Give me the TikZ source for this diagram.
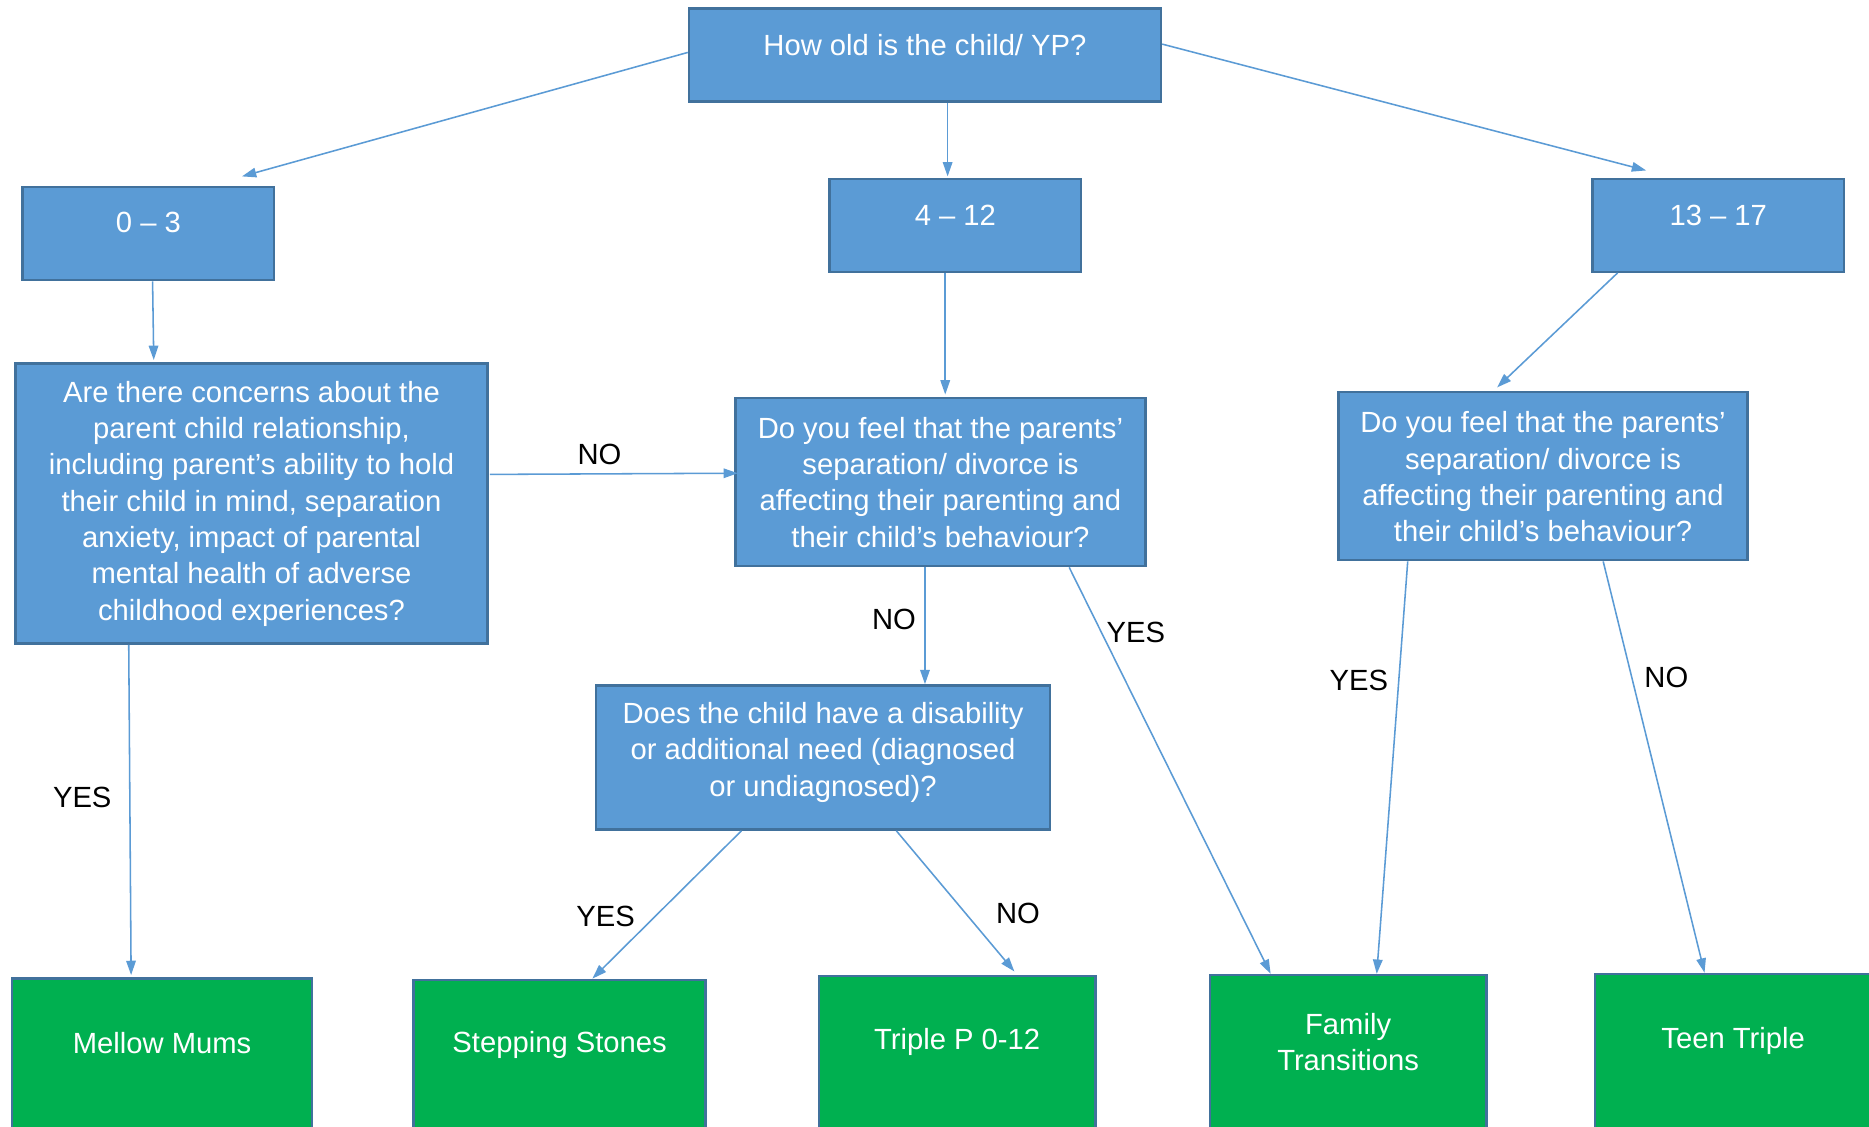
\documentclass[tikz,border=0pt]{standalone}
\usepackage{fontspec}
\setmainfont{Liberation Sans}
\usetikzlibrary{arrows.meta,calc}
\definecolor{bfill}{HTML}{5B9BD5}
\definecolor{bdr}{HTML}{41719C}
\definecolor{gfill}{HTML}{00B050}
\definecolor{arr}{HTML}{5B9BD5}
\tikzset{
  box/.style={draw=bdr, fill=bfill, line width=2pt, inner sep=0pt, rectangle},
  gbox/.style={draw=bdr, fill=gfill, line width=2pt, inner sep=0pt, rectangle, anchor=north},
  wtxt/.style={text=white, align=center, inner sep=0pt, font=\fontsize{24.5}{30.5}\selectfont},
  lbl/.style={text=black, inner sep=0pt, font=\fontsize{24.5}{30.5}\selectfont},
  con/.style={draw=arr, line width=1.3pt, -{Triangle[length=12pt,width=8pt]}}
}
\begin{document}
\begin{tikzpicture}[x=1pt,y=-1pt]
\useasboundingbox (0,0) rectangle (1568,945);
\clip (0,0) rectangle (1568,945);
\fill[white] (0,0) rectangle (1568,945);
% blue boxes
\node[box, minimum width=396pt, minimum height=78pt] (top) at (776,46) {};
\node[wtxt] (topT) at (776,38) {How old is the child/ YP?};
\node[box, minimum width=211pt, minimum height=78pt] (a03) at (124.5,196) {};
\node[wtxt] (a03T) at (124.5,187) {0 – 3};
\node[box, minimum width=211pt, minimum height=78pt] (a412) at (801.5,189) {};
\node[wtxt] (a412T) at (801.5,181) {4 – 12};
\node[box, minimum width=211pt, minimum height=78pt] (a1317) at (1441.5,189) {};
\node[wtxt] (a1317T) at (1441.5,181) {13 – 17};
\node[box, minimum width=396pt, minimum height=235pt] (q1) at (211,422.5) {};
\node[wtxt] (q1T) at (211,422.5) {Are there concerns about the\\parent child relationship,\\including parent’s ability to hold\\their child in mind, separation\\anxiety, impact of parental\\mental health of adverse\\childhood experiences?};
\node[box, minimum width=344pt, minimum height=141pt] (q2) at (789,404.5) {};
\node[wtxt] (q2T) at (789,404.5) {Do you feel that the parents’\\separation/ divorce is\\affecting their parenting and\\their child’s behaviour?};
\node[box, minimum width=343pt, minimum height=141pt] (q3) at (1294.5,399.5) {};
\node[wtxt] (q3T) at (1294.5,400) {Do you feel that the parents’\\separation/ divorce is\\affecting their parenting and\\their child’s behaviour?};
\node[box, minimum width=381pt, minimum height=121pt] (q4) at (690.5,635.5) {};
\node[wtxt] (q4T) at (690.5,631) {Does the child have a disability\\or additional need (diagnosed\\or undiagnosed)?};
% green boxes
\node[gbox, minimum width=252pt, minimum height=180pt] (mellow) at (136,820) {};
\node[wtxt] (mellowT) at (136,875) {Mellow Mums};
\node[gbox, minimum width=245pt, minimum height=180pt] (stepping) at (469.5,821) {};
\node[wtxt] (steppingT) at (469.5,877) {Stepping Stones};
\node[gbox, minimum width=232pt, minimum height=180pt] (triple) at (803,818) {};
\node[wtxt] (tripleT) at (803,874) {Triple P 0-12};
\node[gbox, minimum width=232pt, minimum height=180pt] (family) at (1131,817) {};
\node[wtxt] (familyT) at (1131,874) {Family\\Transitions};
\node[gbox, minimum width=232pt, minimum height=180pt] (teen) at (1454,816) {};
\node[wtxt] (teenT) at (1454,873) {Teen Triple};
% connectors
\draw[con] ([yshift=2pt]top.west) -- ([xshift=78.5pt,yshift=8pt]a03.north);
\draw[con] ([xshift=19pt]top.south) -- ([xshift=-6.5pt,yshift=1pt]a412.north);
\draw[con] ([yshift=9pt]top.east) -- ([xshift=-60.5pt,yshift=6pt]a1317.north);
\draw[con] ([xshift=3.5pt]a03.south) -- ([xshift=-82pt,yshift=2pt]q1.north);
\draw[con] ([xshift=-8.5pt]a412.south) -- ([xshift=4pt,yshift=2pt]q2.north);
\draw[con] ([xshift=-84.5pt]a1317.south) -- ([xshift=-38.5pt,yshift=3pt]q3.north);
\draw[con] ([yshift=24.5pt,xshift=1pt]q1.east) -- ([yshift=7.5pt,xshift=3pt]q2.west);
\draw[con] ([xshift=-13pt]q2.south) -- ([xshift=85.5pt]q4.north);
\draw[con] ([xshift=108pt]q2.south) -- ([xshift=-65pt]family.north);
\draw[con] ([xshift=-113.5pt]q3.south) -- ([xshift=24pt]family.north);
\draw[con] ([xshift=50.5pt]q3.south) -- ([xshift=-24pt]teen.north);
\draw[con] ([xshift=-103pt]q1.south) -- ([xshift=-26pt,yshift=2pt]mellow.north);
\draw[con] ([xshift=-68.5pt]q4.south) -- ([xshift=27.5pt]stepping.north);
\draw[con] ([xshift=61.5pt]q4.south) -- ([xshift=48pt,yshift=3pt]triple.north);
% labels
\node[lbl] (l1) at (503,381) {NO};
\node[lbl] (l2) at (750,520) {NO};
\node[lbl] (l3) at (953,531) {YES};
\node[lbl] (l4) at (1140,571) {YES};
\node[lbl] (l5) at (1398,568) {NO};
\node[lbl] (l6) at (69,669) {YES};
\node[lbl] (l7) at (508,769) {YES};
\node[lbl] (l8) at (854,766) {NO};
\end{tikzpicture}
\end{document}
